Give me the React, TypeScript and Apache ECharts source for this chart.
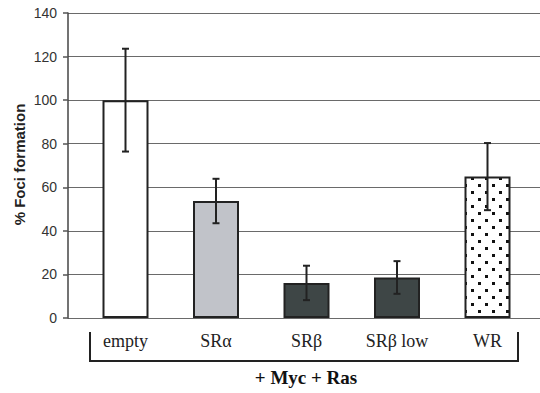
import React, { useEffect, useRef } from "react";
import * as echarts from "echarts";

const categories = ["empty", "SRα", "SRβ", "SRβ low", "WR"];
const values = [100, 53.7, 16.1, 18.6, 64.9];
const errors = [23.6, 10.2, 7.9, 7.5, 15.4];
const yTicks = { min: 0, max: 140, interval: 20 };
const yAxisTitle = "% Foci formation";
const groupTitle = "+ Myc + Ras";

function makeDotPattern(): HTMLCanvasElement {
  const c = document.createElement("canvas");
  c.width = 14;
  c.height = 14;
  const ctx = c.getContext("2d")!;
  ctx.fillStyle = "#ffffff";
  ctx.fillRect(0, 0, 14, 14);
  ctx.fillStyle = "#111111";
  ctx.fillRect(2, 2, 3, 3);
  ctx.fillRect(9, 9, 3, 3);
  return c;
}

export default function App() {
  const ref = useRef<HTMLDivElement>(null);
  useEffect(() => {
    if (!ref.current) return;
    const chart = echarts.init(ref.current, undefined, { renderer: "svg" });
    const pattern = makeDotPattern();
    const fills: any[] = [
      "#ffffff",
      "#c1c3c9",
      "#3e4646",
      "#3e4646",
      { image: pattern, repeat: "repeat" },
    ];
    const top = 13;
    const bottom = 75;
    chart.setOption({
      animation: false,
      grid: [
        { left: 68, right: 0, top, bottom },
        { left: 80.25, width: 452.5, top, bottom },
      ],
      xAxis: [
        { type: "value", gridIndex: 0, min: 0, max: 1, show: false },
        {
          type: "category",
          gridIndex: 1,
          data: categories,
          axisLine: { show: false },
          axisTick: { show: false },
          axisLabel: {
            margin: 14,
            fontFamily: "Liberation Serif",
            fontSize: 18,
            lineHeight: 18,
            color: "#222",
          },
        },
      ],
      yAxis: [
        {
          type: "value",
          gridIndex: 0,
          ...yTicks,
          axisLine: { show: true, lineStyle: { color: "#444", width: 1.5 } },
          axisTick: { show: true, length: 5, lineStyle: { color: "#555", width: 1.5 } },
          axisLabel: {
            margin: 11,
            fontFamily: "Liberation Sans",
            fontSize: 14,
            color: "#333",
          },
          splitLine: { show: true, lineStyle: { color: "#6a6a6a", width: 1.2 } },
        },
        { type: "value", gridIndex: 1, ...yTicks, show: false },
      ],
      series: [
        {
          type: "bar",
          xAxisIndex: 1,
          yAxisIndex: 1,
          barWidth: 46,
          data: values.map((v, i) => ({
            value: v,
            itemStyle: { color: fills[i] },
          })),
          itemStyle: { borderColor: "#222", borderWidth: 2 },
        },
        {
          type: "custom",
          xAxisIndex: 1,
          yAxisIndex: 1,
          data: values.map((v, i) => [i, v - errors[i], v + errors[i]]),
          renderItem: (params: any, api: any) => {
            const x = api.value(0);
            const lo = api.coord([x, api.value(1)]);
            const hi = api.coord([x, api.value(2)]);
            const cap = 3.5;
            const style = { stroke: "#222", lineWidth: 2 };
            return {
              type: "group",
              children: [
                { type: "line", shape: { x1: hi[0], y1: hi[1], x2: lo[0], y2: lo[1] }, style },
                { type: "line", shape: { x1: hi[0] - cap, y1: hi[1], x2: hi[0] + cap, y2: hi[1] }, style },
                { type: "line", shape: { x1: lo[0] - cap, y1: lo[1], x2: lo[0] + cap, y2: lo[1] }, style },
              ],
            };
          },
          z: 5,
        },
      ],
      graphic: [
        {
          type: "text",
          x: 19,
          y: 164.5,
          rotation: Math.PI / 2,
          style: {
            text: yAxisTitle,
            fontFamily: "Liberation Sans",
            fontWeight: "bold",
            fontSize: 15,
            fill: "#222",
            align: "center",
            verticalAlign: "middle",
          },
        },
        {
          type: "polyline",
          shape: { points: [[90, 332], [90, 361], [518, 361], [518, 332]] },
          style: { stroke: "#222", lineWidth: 2, fill: null },
        },
        {
          type: "text",
          x: 306,
          y: 377,
          style: {
            text: groupTitle,
            fontFamily: "Liberation Serif",
            fontWeight: "bold",
            fontSize: 19,
            fill: "#111",
            align: "center",
            verticalAlign: "middle",
          },
        },
      ],
    });
    return () => chart.dispose();
  }, []);
  return (
    <div
      ref={ref}
      style={{ position: "fixed", left: 0, top: 0, width: 540, height: 393, background: "#fff" }}
    />
  );
}
